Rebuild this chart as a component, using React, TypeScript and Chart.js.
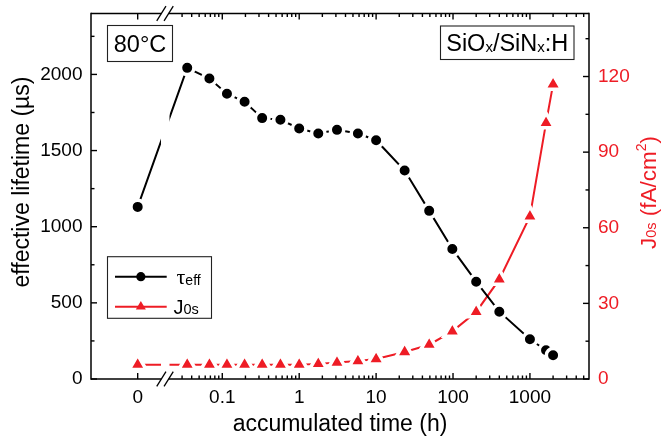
import React, { useEffect, useRef } from 'react';
import { Chart, registerables } from 'chart.js';

Chart.register(...registerables);

// ---- data ----
const TIME_H = [0, 0.035, 0.068, 0.115, 0.195, 0.33, 0.57, 1, 1.77, 3.1, 5.8, 10, 23.5, 49, 98, 200, 400, 1000, 1620, 2000];
const TAU_EFF_US = [1130, 2043, 1973, 1873, 1820, 1713, 1702, 1645, 1612, 1636, 1612, 1568, 1369, 1104, 854, 639, 442, 261, 189, 156];
const J0S_FA_CM2 = [5.7, 5.7, 5.7, 5.7, 5.7, 5.7, 5.7, 5.7, 6.0, 6.5, 7.1, 7.9, 10.7, 13.6, 18.9, 26.6, 39.5, 64.5, 101.6, 116.9];

const X_TICK_TIMES = [0, 0.1, 1, 10, 100, 1000];
const X_TICK_LABELS = ['0', '0.1', '1', '10', '100', '1000'];
const Y_LEFT_TICKS = [0, 500, 1000, 1500, 2000];
const Y_RIGHT_TICKS = [0, 30, 60, 90, 120];

// broken axis: t = 0 sits left of the break, t > 0 on a log10 scale
const ZERO_POS = -2.1;
const X_MIN = -2.707;
const X_MAX = 3.768;
const BREAK_POS = -1.745;
const xPos = (t: number) => (t === 0 ? ZERO_POS : Math.log10(t));

const RED = '#ee1c25';
const SANS = "'Liberation Sans', Arial, sans-serif";
const SERIF = "'Liberation Serif', 'DejaVu Serif', serif";

type Run = { t: string; size: number; dy?: number; family?: string };

function runsWidth(ctx: CanvasRenderingContext2D, runs: Run[]) {
  let w = 0;
  for (const r of runs) {
    ctx.font = `${r.size}px ${r.family || SANS}`;
    w += ctx.measureText(r.t).width;
  }
  return w;
}

function drawRuns(ctx: CanvasRenderingContext2D, runs: Run[], x: number, y: number) {
  let cx = x;
  ctx.textAlign = 'left';
  ctx.textBaseline = 'alphabetic';
  for (const r of runs) {
    ctx.font = `${r.size}px ${r.family || SANS}`;
    ctx.fillText(r.t, cx, y + (r.dy || 0));
    cx += ctx.measureText(r.t).width;
  }
}

const decoPlugin = {
  id: 'deco',
  afterDatasetsDraw(chart: any) {
    const { ctx, chartArea: a, scales } = chart;
    const bx = scales.x.getPixelForValue(BREAK_POS);
    ctx.save();
    ctx.fillStyle = '#fff';
    ctx.fillRect(bx - 4, a.top, 8.5, a.bottom - a.top);
    ctx.restore();
  },
  afterDraw(chart: any) {
    const { ctx, chartArea: a, scales } = chart;
    const sx = scales.x;
    const sy = scales.y;
    const sy1 = scales.y1;
    const bx = sx.getPixelForValue(BREAK_POS);
    const G = 3.65;
    ctx.save();
    const line = (x1: number, y1: number, x2: number, y2: number) => {
      ctx.beginPath();
      ctx.moveTo(x1, y1);
      ctx.lineTo(x2, y2);
      ctx.stroke();
    };
    ctx.strokeStyle = '#000';
    ctx.lineWidth = 1.5;
    // frame
    line(a.left, a.top - 0.75, a.left, a.bottom + 0.75);
    line(a.right, a.top - 0.75, a.right, a.bottom + 0.75);
    line(a.left, a.top, bx - G, a.top);
    line(bx + G, a.top, a.right, a.top);
    line(a.left, a.bottom, bx - G, a.bottom);
    line(bx + G, a.bottom, a.right, a.bottom);
    // break marks
    ctx.lineWidth = 1.3;
    for (const yy of [a.top, a.bottom]) {
      for (const o of [-G, G]) line(bx + o - 4.6, yy + 7.3, bx + o + 4.6, yy - 7.3);
    }
    ctx.lineWidth = 1.4;
    // left ticks
    for (let v = 0; v <= 2400; v += 250) {
      const p = sy.getPixelForValue(v);
      if (p < a.top + 1) continue;
      const L = v % 500 === 0 ? 6 : 3.5;
      line(a.left, p, a.left + L, p);
    }
    // right ticks
    for (let v = 0; v <= 145; v += 15) {
      const p = sy1.getPixelForValue(v);
      if (p < a.top + 1) continue;
      const L = v % 30 === 0 ? 6 : 3.5;
      line(a.right, p, a.right - L, p);
    }
    // x ticks (bottom and top)
    const xt: { p: number; L: number }[] = X_TICK_TIMES.map((t) => ({ p: sx.getPixelForValue(xPos(t)), L: 6 }));
    for (let k = -2; k <= 3; k++) {
      for (let m = 2; m <= 9; m++) {
        const pos = Math.log10(m * Math.pow(10, k));
        if (pos <= BREAK_POS || pos >= X_MAX) continue;
        const p = sx.getPixelForValue(pos);
        if (Math.abs(p - bx) < G + 4) continue;
        xt.push({ p, L: 3.5 });
      }
    }
    for (const t of xt) {
      line(t.p, a.bottom, t.p, a.bottom - t.L);
      line(t.p, a.top, t.p, a.top + t.L);
    }

    // axis titles
    ctx.fillStyle = '#000';
    const xTitle: Run[] = [{ t: 'accumulated time (h)', size: 23 }];
    drawRuns(ctx, xTitle, (a.left + a.right) / 2 - runsWidth(ctx, xTitle) / 2, 431);

    const yTitle: Run[] = [{ t: 'effective lifetime (\u00b5s)', size: 23 }];
    ctx.save();
    ctx.translate(28.5, 182);
    ctx.rotate(-Math.PI / 2);
    drawRuns(ctx, yTitle, -runsWidth(ctx, yTitle) / 2, 0);
    ctx.restore();

    const y1Title: Run[] = [
      { t: 'J', size: 22.5 },
      { t: '0s', size: 14.5, dy: 0 },
      { t: ' (fA/cm', size: 22.5 },
      { t: '2', size: 14, dy: -10 },
      { t: ')', size: 22.5 },
    ];
    ctx.save();
    ctx.fillStyle = RED;
    ctx.translate(656, 192.5);
    ctx.rotate(-Math.PI / 2);
    drawRuns(ctx, y1Title, -runsWidth(ctx, y1Title) / 2, 0);
    ctx.restore();

    // text boxes
    ctx.lineWidth = 1.1;
    ctx.strokeStyle = '#222';
    const b1 = { l: a.left + 16.5, t: a.top + 12, r: a.left + 81.5, b: a.top + 48 };
    ctx.strokeRect(b1.l, b1.t, b1.r - b1.l, b1.b - b1.t);
    const t1: Run[] = [{ t: '80\u00b0C', size: 23.5 }];
    drawRuns(ctx, t1, (b1.l + b1.r) / 2 - runsWidth(ctx, t1) / 2, b1.t + 26.5);

    const b2 = { l: a.right - 148.5, t: a.top + 12.5, r: a.right - 15, b: a.top + 46 };
    ctx.strokeRect(b2.l, b2.t, b2.r - b2.l, b2.b - b2.t);
    const t2: Run[] = [
      { t: 'SiO', size: 23.5 },
      { t: 'x', size: 15, dy: 1.5 },
      { t: '/SiN', size: 23.5 },
      { t: 'x', size: 15, dy: 1.5 },
      { t: ':H', size: 23.5 },
    ];
    drawRuns(ctx, t2, (b2.l + b2.r) / 2 - runsWidth(ctx, t2) / 2, b2.t + 24.5);

    // legend
    const lg = { l: a.left + 16.5, t: a.bottom - 122.3, r: a.left + 120.5, b: a.bottom - 60.7 };
    ctx.strokeRect(lg.l, lg.t, lg.r - lg.l, lg.b - lg.t);
    const x1 = a.left + 24;
    const x2 = a.left + 75.7;
    const xm = (x1 + x2) / 2;
    const r1 = a.bottom - 102.3;
    const r2 = a.bottom - 72.3;
    ctx.lineWidth = 2;
    ctx.strokeStyle = '#000';
    line(x1, r1, x2, r1);
    ctx.fillStyle = '#000';
    ctx.beginPath();
    ctx.arc(xm, r1, 4.6, 0, Math.PI * 2);
    ctx.fill();
    ctx.strokeStyle = RED;
    line(x1, r2, x2, r2);
    ctx.fillStyle = RED;
    const tr = 5.8;
    ctx.beginPath();
    ctx.moveTo(xm, r2 - tr);
    ctx.lineTo(xm + tr * 0.866, r2 + tr / 2);
    ctx.lineTo(xm - tr * 0.866, r2 + tr / 2);
    ctx.closePath();
    ctx.fill();

    ctx.fillStyle = '#000';
    drawRuns(ctx, [
      { t: '\u03c4', size: 22, family: SERIF },
      { t: 'eff', size: 14, dy: 1.5 },
    ], a.left + 85.5, r1 + 6.8);
    drawRuns(ctx, [
      { t: 'J', size: 20 },
      { t: '0s', size: 14.5 },
    ], a.left + 82.5, r2 + 7.2);

    ctx.restore();
  },
};

export default function App() {
  const ref = useRef<HTMLCanvasElement>(null);
  useEffect(() => {
    const tickFont = { family: SANS, size: 19 };
    const zeroPad = (s: any) => {
      s.paddingTop = 0;
      s.paddingBottom = 0;
      s.paddingLeft = 0;
      s.paddingRight = 0;
    };
    const chart = new Chart(ref.current as HTMLCanvasElement, {
      type: 'line',
      data: {
        datasets: [
          {
            label: '\u03c4eff',
            data: TIME_H.map((t, i) => ({ x: xPos(t), y: TAU_EFF_US[i] })),
            yAxisID: 'y',
            borderColor: '#000',
            borderWidth: 2,
            pointStyle: 'circle',
            pointRadius: 6.75,
            pointHoverRadius: 6.75,
            pointBackgroundColor: '#000',
            pointBorderColor: '#fff',
            pointBorderWidth: 3.5,
            tension: 0,
          },
          {
            label: 'J0s',
            data: TIME_H.map((t, i) => ({ x: xPos(t), y: J0S_FA_CM2[i] })),
            yAxisID: 'y1',
            borderColor: RED,
            borderWidth: 2,
            pointStyle: 'triangle',
            pointRadius: 9.8,
            pointHoverRadius: 9.8,
            pointBackgroundColor: RED,
            pointBorderColor: '#fff',
            pointBorderWidth: 3.5,
            tension: 0,
          },
        ],
      },
      options: {
        responsive: false,
        animation: false,
        devicePixelRatio: 1,
        layout: { padding: { top: 13.5, left: 0, right: 0, bottom: 0 } },
        plugins: { legend: { display: false }, tooltip: { enabled: false } },
        events: [],
        scales: {
          x: {
            type: 'linear',
            position: 'bottom',
            min: X_MIN,
            max: X_MAX,
            grid: { display: false, drawTicks: false },
            border: { display: false },
            afterBuildTicks: (s: any) => {
              s.ticks = X_TICK_TIMES.map((t) => ({ value: xPos(t) }));
            },
            ticks: {
              autoSkip: false,
              maxRotation: 0,
              padding: 7,
              color: '#000',
              font: tickFont,
              callback: (_v: any, i: number) => X_TICK_LABELS[i],
            },
            afterFit: (s: any) => {
              s.height = 62;
              zeroPad(s);
            },
          },
          y: {
            type: 'linear',
            position: 'left',
            min: 0,
            max: 2400,
            grid: { display: false, drawTicks: false },
            border: { display: false },
            afterBuildTicks: (s: any) => {
              s.ticks = Y_LEFT_TICKS.map((v) => ({ value: v }));
            },
            ticks: {
              autoSkip: false,
              padding: 8.5,
              color: '#000',
              font: tickFont,
              callback: (v: any) => String(v),
            },
            afterFit: (s: any) => {
              s.width = 91;
              zeroPad(s);
            },
          },
          y1: {
            type: 'linear',
            position: 'right',
            min: 0,
            max: 145,
            grid: { display: false, drawTicks: false },
            border: { display: false },
            afterBuildTicks: (s: any) => {
              s.ticks = Y_RIGHT_TICKS.map((v) => ({ value: v }));
            },
            ticks: {
              autoSkip: false,
              padding: 9,
              color: RED,
              font: tickFont,
              callback: (v: any) => String(v),
            },
            afterFit: (s: any) => {
              s.width = 72;
              zeroPad(s);
            },
          },
        },
      },
      plugins: [decoPlugin],
    } as any);
    return () => chart.destroy();
  }, []);
  return (
    <div style={{ position: 'fixed', left: 0, top: 0, width: 661, height: 441, background: '#fff' }}>
      <canvas ref={ref} width={661} height={441} style={{ display: 'block' }} />
    </div>
  );
}
